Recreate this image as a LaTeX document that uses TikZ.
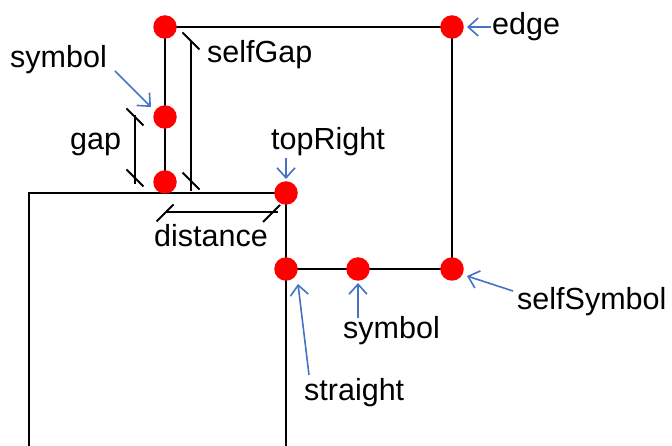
\documentclass[tikz,border=0pt]{standalone}
\usepackage{fontspec}
\setmainfont{Liberation Sans}
\usetikzlibrary{arrows.meta}
\definecolor{ptrblue}{RGB}{68,114,196}
\begin{document}
\begin{tikzpicture}[x=1pt,y=-1pt,
  wire/.style={line width=2pt},
  dot/.style={circle,fill=red,inner sep=0pt,minimum size=23.5pt},
  lbl/.style={font=\fontsize{30.5}{36}\selectfont,inner sep=0pt,anchor=base west},
  ptr/.style={draw=ptrblue,line width=1.6pt,-{Straight Barb[length=10pt,width=18pt]}},
  dimline/.style={line width=2pt}]
\useasboundingbox (0,0) rectangle (672,446);
% coordinates of points
\coordinate (A) at (165,27);
\coordinate (B) at (452,27);
\coordinate (C) at (165,117);
\coordinate (D) at (165,182);
\coordinate (E) at (286,193);
\coordinate (F) at (286,269);
\coordinate (G) at (358,269);
\coordinate (H) at (452,269);
\coordinate (RL) at (29,193);
\coordinate (RLb) at (29,446);
\coordinate (RRb) at (286,446);
% lines
\draw[wire] (RLb) -- (RL) -- (E) -- (RRb);
\draw[wire] (D) -- (A) -- (B) -- (H) -- (F);
% dimension lines
\draw[dimline] (135,115) -- (135,184);
\draw[dimline] (126.5,108.5) -- (143.5,125.5);
\draw[dimline] (126.5,169.5) -- (143.5,186.5);
\draw[dimline] (191,42) -- (191,191);
\draw[dimline] (182.5,32.5) -- (199.5,49.5);
\draw[dimline] (182.5,172.5) -- (199.5,189.5);
\draw[dimline] (167,212) -- (278,212);
\draw[dimline] (156.5,221.5) -- (173.5,204.5);
\draw[dimline] (263,222) -- (280,205);
% dots
\node[dot] (nA) at (A) {};
\node[dot] (nB) at (B) {};
\node[dot] (nC) at (C) {};
\node[dot] (nD) at (D) {};
\node[dot] (nE) at (E) {};
\node[dot] (nF) at (F) {};
\node[dot] (nG) at (G) {};
\node[dot] (nH) at (H) {};
% labels
\node[lbl] (tsym1) at (10,68) {symbol};
\node[lbl] (tsgap) at (207,63) {selfGap};
\node[lbl] (tgap) at (70,150) {gap};
\node[lbl] (ttr) at (271,150) {topRight};
\node[lbl] (tedge) at (492,35) {edge};
\node[lbl] (tdist) at (154,247) {distance};
\node[lbl] (tsym2) at (343,338) {symbol};
\node[lbl] (tstr) at (304,400) {straight};
\node[lbl] (tss) at (517,310) {selfSymbol};
% pointers
\coordinate (p1) at (115,71);
\coordinate (p1e) at (151,107);
\draw[ptr] (p1) -- (p1e);
\coordinate (p2) at (286,158);
\coordinate (p2e) at (286,179);
\draw[ptr] (p2) -- (p2e);
\coordinate (p3) at (491,27);
\coordinate (p3e) at (467,27);
\draw[ptr] (p3) -- (p3e);
\coordinate (p4) at (309,375);
\coordinate (p4e) at (298,284);
\draw[ptr] (p4) -- (p4e);
\coordinate (p5) at (358,318);
\coordinate (p5e) at (358,283);
\draw[ptr] (p5) -- (p5e);
\coordinate (p6) at (513,291);
\coordinate (p6e) at (467,276);
\draw[ptr] (p6) -- (p6e);
\end{tikzpicture}
\end{document}
